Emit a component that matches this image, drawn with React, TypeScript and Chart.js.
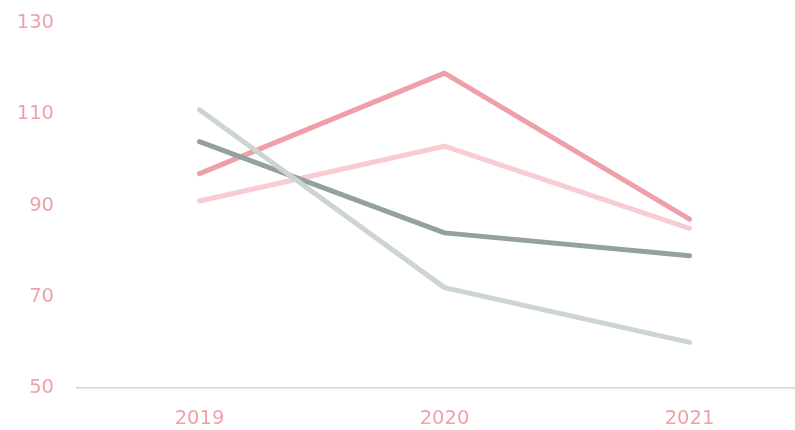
import React, { useEffect, useRef } from "react";
import { Chart, registerables } from "chart.js";

Chart.register(...registerables);

const categories = ["2019", "2020", "2021"];
const seriesA = [97, 119, 87];
const seriesB = [91, 103, 85];
const seriesC = [104, 84, 79];
const seriesD = [111, 72, 60];
const yTicks = [50, 70, 90, 110, 130];

const tickColor = "#f0a1a9";
const fontFamily = "'DejaVu Sans', sans-serif";

export default function App() {
  const ref = useRef<HTMLCanvasElement | null>(null);
  useEffect(() => {
    document.body.style.overflow = "hidden";
    const ctx = ref.current!;
    const mk = (label: string, data: number[], color: string) => ({
      label,
      data,
      borderColor: color,
      backgroundColor: color,
      borderWidth: 5,
      pointRadius: 0,
      pointHoverRadius: 0,
      borderCapStyle: "round" as const,
      borderJoinStyle: "round" as const,
      tension: 0,
      fill: false,
    });
    const chart = new Chart(ctx, {
      type: "line",
      data: {
        labels: categories,
        datasets: [
          mk("D", seriesD, "#cdd5d2"),
          mk("C", seriesC, "#93a2a0"),
          mk("B", seriesB, "#f8ccd3"),
          mk("A", seriesA, "#ef9fa8"),
        ],
      },
      options: {
        responsive: false,
        animation: false,
        layout: { padding: { top: 23, left: 0, right: 0, bottom: 0 } },
        plugins: { legend: { display: false }, tooltip: { enabled: false } },
        scales: {
          x: {
            offset: true,
            grid: { display: false, drawTicks: false },
            border: { display: true, color: "#cdd5d2", width: 1.5 },
            ticks: {
              color: tickColor,
              font: { family: fontFamily, size: 19.5 },
              padding: 19,
            },
            afterFit: (s: any) => {
              s.height = 42;
              s.paddingLeft = 0;
              s.paddingRight = 0;
            },
          },
          y: {
            min: 50,
            max: 130,
            afterBuildTicks: (s: any) => {
              s.ticks = yTicks.map((v) => ({ value: v }));
            },
            grid: { display: false, drawTicks: false },
            border: { display: false },
            ticks: {
              color: tickColor,
              font: { family: fontFamily, size: 19.5 },
              padding: 23,
            },
            afterFit: (s: any) => {
              s.width = 77;
              s.paddingTop = 0;
              s.paddingBottom = 0;
            },
          },
        },
      },
    });
    return () => chart.destroy();
  }, []);
  return (
    <div style={{ position: "absolute", left: 0, top: 0, width: 812, height: 430 }}>
      <canvas ref={ref} width={812} height={430} />
    </div>
  );
}
